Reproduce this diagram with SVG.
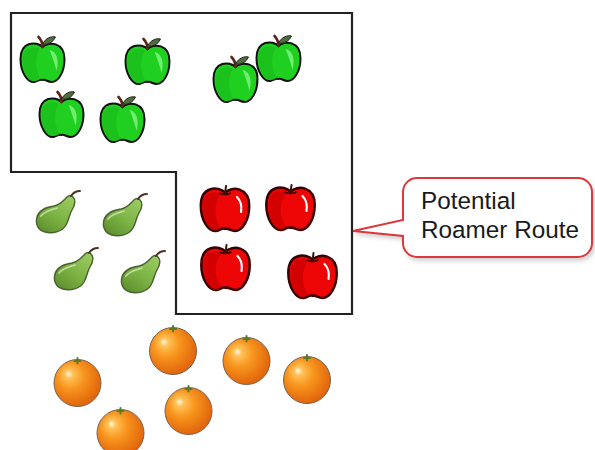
<svg xmlns="http://www.w3.org/2000/svg" width="595" height="450" viewBox="0 0 595 450">
  <style>
    .route { fill: none; stroke: #222; stroke-width: 2.2; stroke-linejoin: miter; }
    .bubble { fill: #fff; stroke: #d9393d; stroke-width: 2; }
    .label { font-family: "Liberation Sans", Arial, sans-serif; font-size: 24.3px; fill: #1a1a1a; }
  </style>
  <defs>
    <filter id="soft" x="-10%" y="-10%" width="130%" height="140%">
      <feDropShadow dx="2" dy="3" stdDeviation="2" flood-color="#000" flood-opacity="0.18"/>
    </filter>
    <radialGradient id="orangeFill" cx="0.42" cy="0.4" r="0.62" fx="0.3" fy="0.3">
      <stop offset="0" stop-color="#fffbe8"/>
      <stop offset="0.14" stop-color="#ffc25a"/>
      <stop offset="0.45" stop-color="#f8961e"/>
      <stop offset="1" stop-color="#e0620a"/>
    </radialGradient>
    <linearGradient id="pearFill" x1="0.9" y1="0" x2="0.2" y2="1">
      <stop offset="0" stop-color="#9ccc64"/>
      <stop offset="0.55" stop-color="#7db344"/>
      <stop offset="1" stop-color="#5e902f"/>
    </linearGradient>

    <!-- green apple, body centred on the origin -->
    <g id="greenApple">
      <path d="M0,-15 C-6,-21 -22,-21 -22,-3 C-22,10 -15,21 -8,20 C-4,19 -3,17 0,18 C3,17 5,20 9,20 C16,20 22,10 22,-3 C22,-20 6,-21 0,-15 Z" fill="#20d020" stroke="#111" stroke-width="2"/>
      <path d="M-3,-13 C-9,-2 -6,10 -2,17 C-4,18 -6,19 -8,19 C-15,19 -20,9 -20,-3 C-20,-14 -10,-17 -3,-13 Z" fill="#1bc21b"/>
      <path d="M7,-12 C14,-11 17,-2 14,9 C12,1 10,-5 7,-12 Z" fill="#6fee6f"/>
      <path d="M0,-15 C0,-19 -1,-22 -4,-25" fill="none" stroke="#5b2616" stroke-width="2.6" stroke-linecap="round"/>
      <path d="M0,-18 C3,-24 9,-26 13,-25 C10,-19 5,-17 0,-18 Z" fill="#4d6e3b" stroke="#222" stroke-width="1"/>
    </g>

    <!-- red apple, body centred on the origin -->
    <g id="redApple">
      <path d="M0,-15 C-6,-21 -22,-21 -22,-3 C-22,10 -15,21 -8,20 C-4,19 -3,17 0,18 C3,17 5,20 9,20 C16,20 22,10 22,-3 C22,-20 6,-21 0,-15 Z" transform="scale(1.1)" fill="#ee0606" stroke="#3a0000" stroke-width="2.3"/>
      <path d="M-4,-15 C-13,-4 -10,12 -4,19 C-6,20 -8,21 -9,21 C-17,21 -22,10 -22,-3 C-22,-16 -12,-19 -4,-15 Z" fill="#d20000"/>
      <path d="M12,-12 C16,-8 17,-3 16,3" fill="none" stroke="#fff" stroke-width="2.2" stroke-linecap="round"/>
      <path d="M-6,-16 Q0,-13 6,-16" fill="none" stroke="#3a0000" stroke-width="1.5"/>
      <path d="M0,-15 L1,-23" fill="none" stroke="#3a1208" stroke-width="2" stroke-linecap="round"/>
    </g>

    <!-- pear, drawn in a 45 x 43 box -->
    <g id="pear">
      <path d="M38,6 C41,9 40,14 37,19 C34,24 34,29 31,34 C27,41 17,43 10,41 C3,39 0,33 2,26 C4,19 12,16 19,15 C25,14 28,10 32,6 C34,4 36,4 38,6 Z" fill="url(#pearFill)" stroke="#4a6030" stroke-width="1.4"/>
      <path d="M6,25 C10,20 16,19 22,17" fill="none" stroke="#d2e8b2" stroke-width="1.8" stroke-linecap="round" opacity="0.8"/>
      <path d="M36,5 C38,2 41,0 45,0" fill="none" stroke="#4a3422" stroke-width="2" stroke-linecap="round"/>
    </g>

    <!-- orange, centred on the origin -->
    <g id="orange">
      <circle r="23.5" fill="url(#orangeFill)" stroke="#7a6250" stroke-width="1"/>
      <path d="M-3,-22 H3 M0,-25 V-19.5" stroke="#5c7a2a" stroke-width="2" stroke-linecap="round"/>
    </g>
  </defs>

  <!-- the L-shaped roaming boundary -->
  <g id="route">
    <path class="route" d="M11,13 H352 V314 H176 V172 H11 Z"/>
  </g>

  <!-- green apples -->
  <g id="green-apple-1"><use href="#greenApple" transform="translate(42.5,62)"/></g>
  <g id="green-apple-2"><use href="#greenApple" transform="translate(147.5,64)"/></g>
  <g id="green-apple-3"><use href="#greenApple" transform="translate(61.5,117)"/></g>
  <g id="green-apple-4"><use href="#greenApple" transform="translate(122.5,122)"/></g>
  <g id="green-apple-5"><use href="#greenApple" transform="translate(235.5,82)"/></g>
  <g id="green-apple-6"><use href="#greenApple" transform="translate(278.5,61)"/></g>

  <!-- red apples -->
  <g id="red-apple-1"><use href="#redApple" transform="translate(225,209)"/></g>
  <g id="red-apple-2"><use href="#redApple" transform="translate(290.5,208)"/></g>
  <g id="red-apple-3"><use href="#redApple" transform="translate(225.5,268)"/></g>
  <g id="red-apple-4"><use href="#redApple" transform="translate(312.5,276)"/></g>

  <!-- pears -->
  <g id="pear-1"><use href="#pear" transform="translate(35,191)"/></g>
  <g id="pear-2"><use href="#pear" transform="translate(102,194)"/></g>
  <g id="pear-3"><use href="#pear" transform="translate(53,248)"/></g>
  <g id="pear-4"><use href="#pear" transform="translate(120,251)"/></g>

  <!-- oranges -->
  <g id="orange-1"><use href="#orange" transform="translate(77.5,383)"/></g>
  <g id="orange-2"><use href="#orange" transform="translate(173,351)"/></g>
  <g id="orange-3"><use href="#orange" transform="translate(246.5,361)"/></g>
  <g id="orange-4"><use href="#orange" transform="translate(307,380)"/></g>
  <g id="orange-5"><use href="#orange" transform="translate(188.5,411)"/></g>
  <g id="orange-6"><use href="#orange" transform="translate(120.5,433)"/></g>

  <!-- callout -->
  <g id="callout">
    <path class="bubble" filter="url(#soft)" d="M417,178 H578 A14,14 0 0 1 592,192 V243 A14,14 0 0 1 578,257 H417 A14,14 0 0 1 403,243 V236 L353,231 L403,220 V192 A14,14 0 0 1 417,178 Z"/>
    <text class="label" x="421" y="209">Potential</text>
    <text class="label" x="421" y="238">Roamer Route</text>
  </g>
</svg>
